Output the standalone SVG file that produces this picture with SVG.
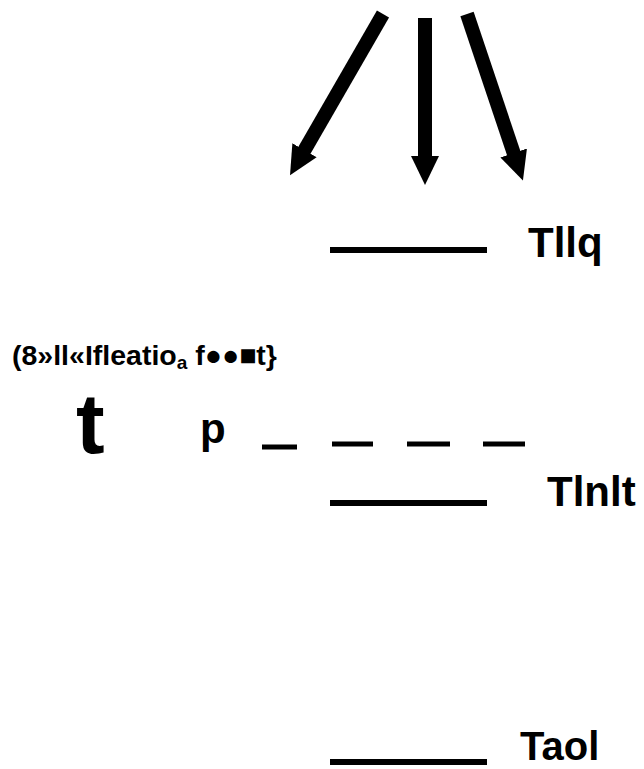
<svg xmlns="http://www.w3.org/2000/svg" width="644" height="769" viewBox="0 0 644 769">
  <style>
    text { font-family: "Liberation Sans", Arial, sans-serif; font-weight: bold; fill: #000; }
    .lvl { stroke: #000; stroke-width: 6; }
    .dash { stroke: #000; stroke-width: 5; }
    .lab { font-size: 42px; }
    .arr { stroke: #000; stroke-width: 14; fill: none; marker-end: url(#head); }
  </style>
  <defs>
    <marker id="head" markerUnits="userSpaceOnUse" markerWidth="32" markerHeight="34" refX="1" refY="16" orient="auto">
      <path d="M0,2 L29,16 L0,30 z" fill="#000"/>
    </marker>
  </defs>
  <rect width="644" height="769" fill="#fff"/>
  <g id="connectors">
    <line class="arr" x1="383" y1="14" x2="304" y2="151"/>
    <line class="arr" x1="425" y1="18" x2="425" y2="157"/>
    <line class="arr" x1="467" y1="14" x2="514" y2="154"/>
  </g>
  <g id="level-tllq">
    <line class="lvl" x1="330" y1="250" x2="487" y2="250"/>
    <text class="lab" x="528" y="257">Tllq</text>
  </g>
  <g id="title">
    <text x="12" y="365" font-size="28.5">(8»ll«Ifleatio<tspan font-size="19" dy="4">a</tspan><tspan dy="-4"> f●●■t}</tspan></text>
  </g>
  <g id="marker-t">
    <text x="76" y="453" font-size="86">t</text>
  </g>
  <g id="level-p">
    <text x="200" y="443" font-size="42">p</text>
    <line class="dash" x1="262" y1="447" x2="297" y2="447"/>
    <line class="dash" x1="332" y1="444" x2="373" y2="444"/>
    <line class="dash" x1="407" y1="444" x2="450" y2="444"/>
    <line class="dash" x1="483" y1="444" x2="525" y2="444"/>
  </g>
  <g id="level-tlnlt">
    <line class="lvl" x1="330" y1="503" x2="487" y2="503"/>
    <text class="lab" x="547" y="506">Tlnlt</text>
  </g>
  <g id="level-taol">
    <line class="lvl" x1="330" y1="762" x2="487" y2="762"/>
    <text x="520" y="760" font-size="40">Taol</text>
  </g>
</svg>
